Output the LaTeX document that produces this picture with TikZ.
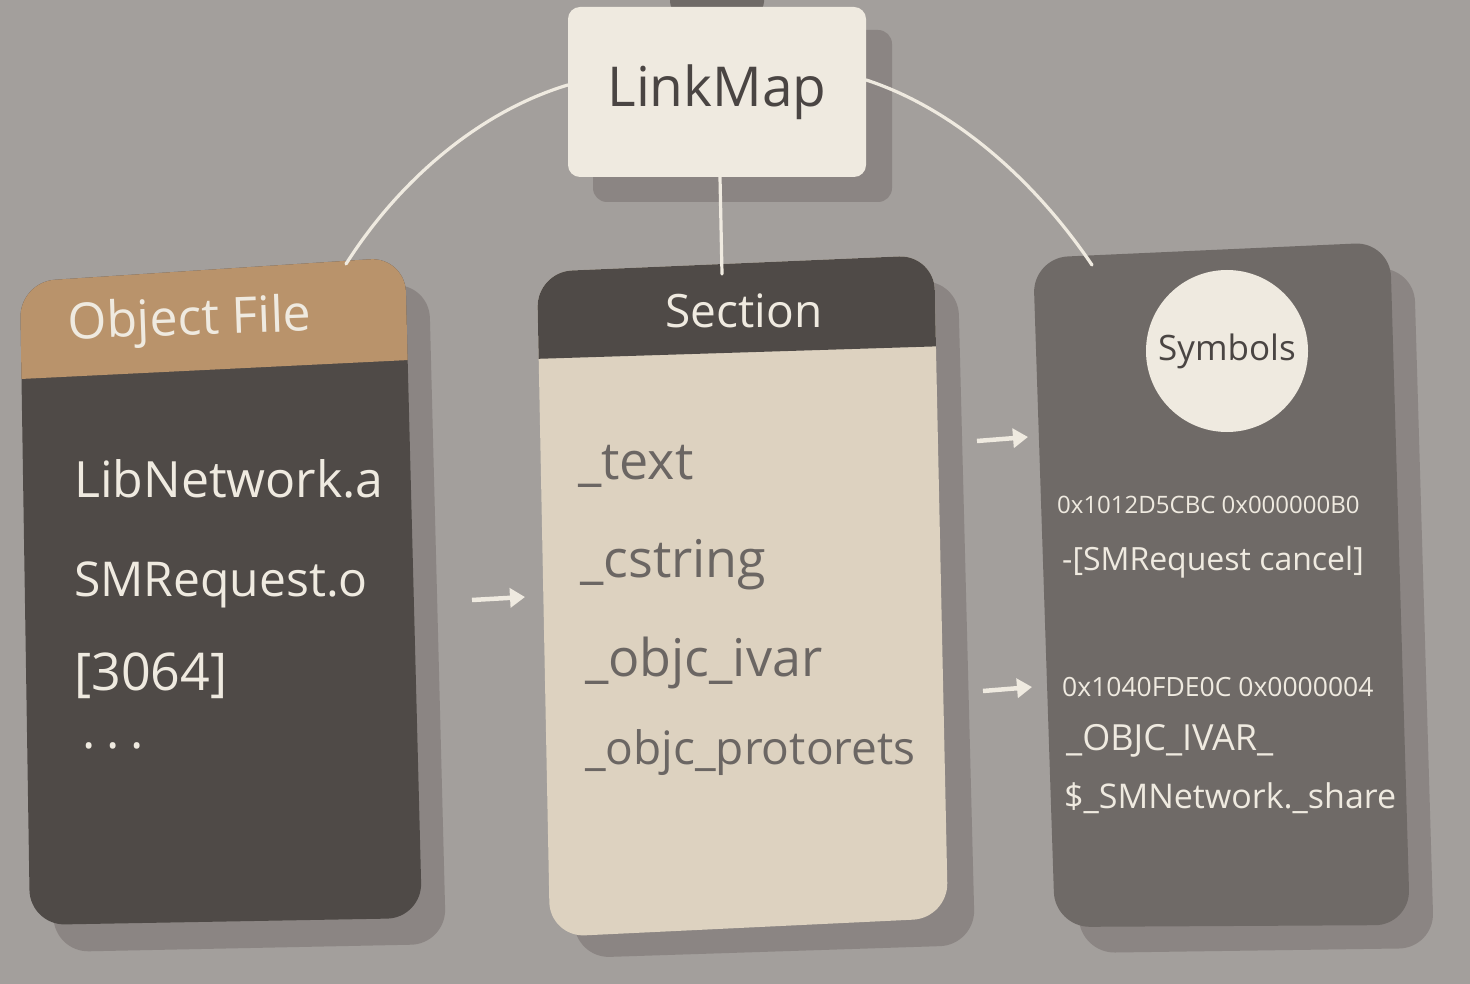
\documentclass[tikz,border=0pt]{standalone}
\usepackage{fontspec}
\setmainfont{Open Sans}
\usetikzlibrary{arrows.meta}
\definecolor{bgc}{HTML}{A39F9C}
\definecolor{shadowc}{HTML}{8B8583}
\definecolor{creamc}{HTML}{EFEAE0}
\definecolor{darkpanel}{HTML}{4F4A47}
\definecolor{tanc}{HTML}{B9936B}
\definecolor{beigec}{HTML}{DDD2C0}
\definecolor{midpanel}{HTML}{6F6A67}
\definecolor{inkdark}{HTML}{4A4543}
\definecolor{inkgray}{HTML}{6B6663}
\newcommand\setfs[1]{\fontsize{#1}{#1}\selectfont}
\tikzset{
  shadowfill/.style={fill=shadowc, rounded corners=35pt},
  panelfill/.style={rounded corners=35pt},
  connector/.style={draw=creamc, line width=3.2pt, line cap=round},
  smallarrow/.style={draw=creamc, line width=4.5pt, -{Triangle[length=15pt,width=19pt]}},
  lbl/.style={inner sep=0pt, anchor=base west},
  title/.style={inner sep=0pt, anchor=base, text=creamc},
}
\begin{document}
\begin{tikzpicture}[x=1pt,y=-1pt]
\fill[bgc] (0,0) rectangle (1470,984);
\useasboundingbox (0,0) rectangle (1470,984);

% ---------- LinkMap ----------
\fill[midpanel, rounded corners=10pt] (670,-12) rectangle (764,12);
\fill[shadowc, rounded corners=14pt] (593,30) rectangle (892,202);
\node[fill=creamc, rounded corners=12pt, minimum width=298pt, minimum height=170pt,
      inner sep=0pt, text=inkdark, font=\setfs{55}] (lm) at (717,92) {LinkMap};

% ---------- Object File panel ----------
\fill[shadowfill] (44,308) -- (429,283) -- (446,944) -- (54,952) -- cycle;
\fill[darkpanel, panelfill] (20,282) -- (405,257) -- (422,918) -- (30,925) -- cycle;
\begin{scope}
  \clip[panelfill] (20,282) -- (405,257) -- (422,918) -- (30,925) -- cycle;
  \fill[tanc] (0,200) -- (450,200) -- (450,358) -- (0,380) -- cycle;
\end{scope}
\coordinate (ofTop) at (346,264);
\node[title, font=\setfs{50}, rotate=2] (oft) at (190,335) {Object File};
\node[lbl, text=creamc, font=\setfs{50}] (of1) at (74,497) {LibNetwork.a};
\node[lbl, text=creamc, font=\setfs{48}] (of2) at (74,596) {SMRequest.o};
\node[lbl, text=creamc, font=\setfs{52}] (of3) at (74,690) {[3064]};
\node[lbl, text=creamc, font=\setfs{50}\addfontfeature{LetterSpace=22}] (of4) at (82,748) {...};

% ---------- Section panel ----------
\fill[shadowfill] (562,297) -- (958,280) -- (975,945) -- (575,958) -- cycle;
\fill[beigec, panelfill] (537,272) -- (934,255) -- (948,918) -- (550,937) -- cycle;
\begin{scope}
  \clip[panelfill] (537,272) -- (934,255) -- (948,918) -- (550,937) -- cycle;
  \fill[darkpanel] (500,200) -- (980,200) -- (980,345) -- (500,360) -- cycle;
\end{scope}
\coordinate (secTop) at (722,274);
\node[title, font=\setfs{46}] (sect) at (744,328) {Section};
\node[lbl, text=inkgray, font=\setfs{52}] (s1) at (578,479) {\_text};
\node[lbl, text=inkgray, font=\setfs{52}] (s2) at (580,577) {\_cstring};
\node[lbl, text=inkgray, font=\setfs{52}] (s3) at (585,676) {\_objc\_ivar};
\node[lbl, text=inkgray, font=\setfs{46}] (s4) at (585,764) {\_objc\_protorets};

% ---------- Symbols panel ----------
\fill[shadowfill] (1058,283) -- (1414,267) -- (1434,948) -- (1080,953) -- cycle;
\fill[midpanel, panelfill] (1033,258) -- (1390,242) -- (1410,925) -- (1055,927) -- cycle;
\coordinate (symTop) at (1092,265);
\node[circle, fill=creamc, minimum size=162pt, inner sep=0pt, text=inkdark,
      font=\setfs{35}] (symc) at (1227,351) {Symbols};
\node[lbl, text=creamc, font=\setfs{24}] (y1) at (1057,513) {0x1012D5CBC 0x000000B0};
\node[lbl, text=creamc, font=\setfs{32}] (y2) at (1062,570) {-[SMRequest cancel]};
\node[lbl, text=creamc, font=\setfs{26.5}] (y3) at (1062,696) {0x1040FDE0C 0x0000004};
\node[lbl, text=creamc, font=\setfs{36}] (y4) at (1066,750) {\_OBJC\_IVAR\_};
\node[lbl, text=creamc, font=\setfs{34}] (y5) at (1064,808) {\$\_SMNetwork.\_share};

% ---------- connectors ----------
\draw[connector] ([yshift=7pt]lm.west) .. controls (478,112) and (398,182) .. (ofTop);
\draw[connector] ([xshift=3pt]lm.south) -- (secTop);
\draw[connector] ([yshift=12pt]lm.east) .. controls (958,110) and (1038,185) .. (symTop);

% ---------- small arrows ----------
\coordinate (a1s) at (472,600); \coordinate (a1e) at (525,597);
\coordinate (a2s) at (977,441); \coordinate (a2e) at (1028,437);
\coordinate (a3s) at (983,691); \coordinate (a3e) at (1032,687);
\draw[smallarrow] (a1s) -- (a1e);
\draw[smallarrow] (a2s) -- (a2e);
\draw[smallarrow] (a3s) -- (a3e);
\end{tikzpicture}
\end{document}
